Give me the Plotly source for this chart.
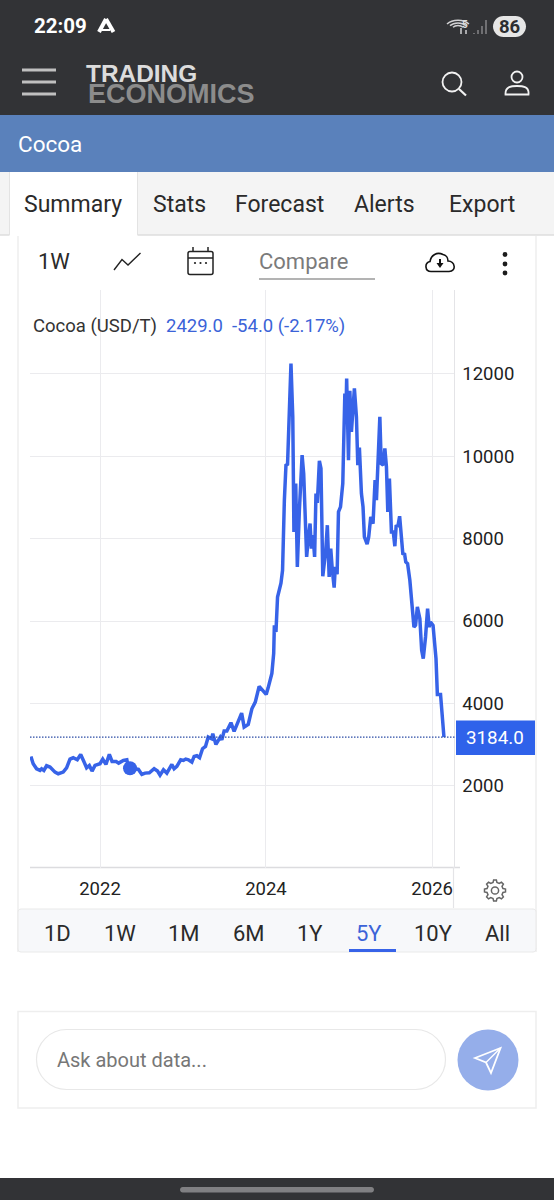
import math
import re
import plotly.graph_objects as go

W, H = 554, 1200

# ---- data ----
dates = [
 "2021-03-03","2021-03-13","2021-03-28","2021-04-12","2021-04-19","2021-04-29","2021-05-11","2021-05-26",
 "2021-06-17","2021-07-01","2021-07-23","2021-08-07","2021-08-22","2021-09-05","2021-09-23","2021-10-08",
 "2021-10-20","2021-11-03","2021-11-15","2021-11-27","2021-12-10","2022-01-01","2022-01-13","2022-01-27",
 "2022-02-11","2022-02-23","2022-03-13","2022-03-24","2022-04-14","2022-04-29","2022-05-06","2022-05-18",
 "2022-06-04","2022-06-19","2022-07-04","2022-07-18","2022-08-06","2022-08-27","2022-09-11","2022-09-22",
 "2022-10-07","2022-10-22","2022-11-13","2022-11-23","2022-12-05","2022-12-22","2023-01-03","2023-01-13",
 "2023-01-25","2023-02-09","2023-02-19","2023-03-03","2023-03-15","2023-03-28","2023-04-10","2023-04-22",
 "2023-05-07","2023-05-12","2023-05-26","2023-06-14","2023-06-21","2023-07-01","2023-07-13","2023-07-31",
 "2023-08-14","2023-09-10","2023-09-16","2023-09-27","2023-10-15","2023-10-31","2023-11-15","2023-12-02",
 "2023-12-19","2024-01-02","2024-01-10","2024-01-20","2024-01-27","2024-02-04","2024-02-07","2024-02-14",
 "2024-02-21","2024-03-07","2024-03-14","2024-03-22","2024-03-29","2024-04-05","2024-04-11","2024-04-20",
 "2024-04-28","2024-05-02","2024-05-03","2024-05-11","2024-05-18","2024-05-27","2024-06-03","2024-06-08",
 "2024-06-15","2024-06-22","2024-06-28","2024-07-06","2024-07-13","2024-07-19","2024-07-26","2024-08-02",
 "2024-08-08","2024-08-14","2024-08-23","2024-08-30","2024-09-07","2024-09-20","2024-09-27","2024-10-05",
 "2024-10-12","2024-10-19","2024-10-27","2024-11-01","2024-11-09","2024-11-15","2024-11-24","2024-12-04",
 "2024-12-13","2024-12-17","2024-12-21","2024-12-29","2025-01-04","2025-01-11","2025-01-24","2025-02-02",
 "2025-02-08","2025-02-15","2025-02-24","2025-03-03","2025-03-09","2025-03-21","2025-03-28","2025-04-06",
 "2025-04-16","2025-04-25","2025-05-01","2025-05-07","2025-05-16","2025-05-22","2025-05-31","2025-06-07",
 "2025-06-14","2025-06-20","2025-06-27","2025-07-06","2025-07-14","2025-07-21","2025-07-27","2025-08-03",
 "2025-08-11","2025-08-25","2025-09-02","2025-09-07","2025-09-15","2025-09-25","2025-10-07","2025-10-13",
 "2025-10-20","2025-10-28","2025-11-08","2025-11-16","2025-11-23","2025-12-03","2025-12-12","2025-12-19",
 "2025-12-25","2026-01-05","2026-01-18","2026-01-24","2026-02-07","2026-02-22",
]
prices = [
 2715,2538,2416,2376,2416,2376,2489,2457,
 2335,2295,2335,2440,2651,2683,2635,2764,
 2618,2440,2497,2360,2497,2538,2651,2521,
 2764,2594,2594,2554,2618,2635,2440,2440,
 2416,2400,2279,2311,2319,2416,2360,2262,
 2392,2311,2521,2416,2473,2635,2618,2651,
 2635,2578,2715,2732,2683,2902,2958,3185,
 3144,3266,3007,3185,3120,3330,3330,3533,
 3322,3654,3767,3427,3492,3872,4034,4414,
 4317,4220,4366,4640,4730,5216,5895,5733,
 6582,6915,7230,8930,9779,9803,10952,12246,
 10952,9334,8161,9334,7312,8687,9496,10022,
 9577,8687,7554,8040,8363,7757,8080,7554,
 9091,8865,9884,9698,7085,7716,8323,7069,
 7757,7231,6810,7312,7134,8646,8768,9334,
 11518,10790,11882,9900,11583,10588,11640,10952,
 9779,10208,9091,8768,8040,7862,8040,8525,
 8363,9415,8930,9739,10952,9819,9779,10183,
 9739,8646,9455,8161,8161,7813,8323,8282,
 8541,7635,7619,7433,7392,6988,6341,5854,
 5895,6340,6057,5288,5086,5612,6299,5854,
 5976,5895,5086,4220,4220,3184,
]
hover_date = ["2022-05-13"]
hover_price = [2429.0]
change = -54.0
change_pct = -2.17
last_price = prices[-1]
y_ticks = [2000, 4000, 6000, 8000, 10000, 12000]
x_tick_dates = ["2022-01-01", "2024-01-01", "2026-01-01"]
x_tick_labels = ["2022", "2024", "2026"]
ranges = ["1D", "1W", "1M", "6M", "1Y", "5Y", "10Y", "All"]
range_centers = [57, 120, 184, 249, 310, 369, 433, 497]
tabs = ["Summary", "Stats", "Forecast", "Alerts", "Export"]
tab_left = [23, 152, 234, 353, 448]

# ---- colours ----
DARK = "#323336"
BAND = "#5a81bb"
BLUE = "#3763e8"
GRID = "#ebebee"
TXT = "#222222"


def X(x):
    return x / W


def Y(y):
    return 1 - y / H


def P(d):
    """Path in screen pixels -> paper coordinates."""
    out, i = [], 0
    for tok in re.findall(r"[A-Za-z]|-?[\d.]+", d):
        if tok.isalpha():
            out.append(tok)
        else:
            out.append(f"{(X if i % 2 == 0 else Y)(float(tok)):.5f}")
            i += 1
    return " ".join(out)


shapes = []
annots = []


def rect(x0, y0, x1, y1, fill=None, line=None, lw=1, layer="below"):
    shapes.append(dict(type="rect", xref="paper", yref="paper", x0=X(x0), x1=X(x1), y0=Y(y0), y1=Y(y1),
                       fillcolor=fill or "rgba(0,0,0,0)", line=dict(color=line or "rgba(0,0,0,0)", width=lw if line else 0),
                       layer=layer))


def seg(x0, y0, x1, y1, color, lw=1, layer="below"):
    shapes.append(dict(type="line", xref="paper", yref="paper", x0=X(x0), x1=X(x1), y0=Y(y0), y1=Y(y1),
                       line=dict(color=color, width=lw), layer=layer))


def circ(cx, cy, r, fill=None, line=None, lw=1, layer="above"):
    shapes.append(dict(type="circle", xref="paper", yref="paper", x0=X(cx - r), x1=X(cx + r), y0=Y(cy - r), y1=Y(cy + r),
                       fillcolor=fill or "rgba(0,0,0,0)", line=dict(color=line or "rgba(0,0,0,0)", width=lw if line else 0),
                       layer=layer))


def path(d, fill=None, line=None, lw=1, layer="above"):
    shapes.append(dict(type="path", xref="paper", yref="paper", path=P(d), fillcolor=fill or "rgba(0,0,0,0)",
                       line=dict(color=line or "rgba(0,0,0,0)", width=lw if line else 0), layer=layer))


def rrect(x0, y0, x1, y1, r):
    k = r * 0.45
    return (f"M {x0+r} {y0} L {x1-r} {y0} C {x1-k} {y0} {x1} {y0+k} {x1} {y0+r} L {x1} {y1-r} "
            f"C {x1} {y1-k} {x1-k} {y1} {x1-r} {y1} L {x0+r} {y1} C {x0+k} {y1} {x0} {y1-k} {x0} {y1-r} "
            f"L {x0} {y0+r} C {x0} {y0+k} {x0+k} {y0} {x0+r} {y0} Z")


def text(x, y, s, size, color=TXT, anchor="left", family="Roboto", weight=None):
    if weight:
        s = f"<b>{s}</b>"
    annots.append(dict(xref="paper", yref="paper", x=X(x), y=Y(y), text=s, showarrow=False, xanchor=anchor,
                       yanchor="middle", borderpad=0, font=dict(family=family, size=size, color=color)))


# ---- page chrome ----
rect(0, 0, W, 115, DARK)
rect(0, 115, W, 172, BAND)
rect(0, 172, W, 235, "#f4f4f4")
seg(0, 235, W, 235, "#dedede", 1.5)
rect(9.5, 172, 137.5, 236, "#ffffff")
seg(9.5, 172, 9.5, 235, "#e3e3e3", 1)
seg(137.5, 172, 137.5, 235, "#e3e3e3", 1)
seg(18, 236, 18, 952, "#eeeeee", 1.5)
seg(536, 236, 536, 952, "#eeeeee", 1.5)
path(rrect(18, 909, 536, 952, 3), fill="#f7f8fa", line="#e9e9e9", lw=1, layer="below")
rect(18, 1011.5, 536, 1108, None, "#eeeeee", 1.5)
path(rrect(36.5, 1029.5, 445.5, 1089.5, 30), line="#e8e8e8", lw=1.2)
rect(0, 1178, W, 1200, DARK)
path(rrect(180, 1187, 374, 1192.5, 2.7), fill="#808083")

# status bar
text(33, 26, "22:09", 20.5, "#ffffff", weight=True)
path("M 106 19 L 99 32", line="#ffffff", lw=4)
path("M 106 19 L 113.5 32", line="#ffffff", lw=4)
path("M 102 30 L 110 30", line="#ffffff", lw=2)
for r_, yc in [(11, 30), (8, 30), (5, 30)]:
    path(f"M {458-r_} {yc-r_*0.55} C {458-r_*0.5} {yc-r_} {458+r_*0.5} {yc-r_} {458+r_} {yc-r_*0.55}",
         line="#d2d2d4", lw=1.5)
text(465, 24, "5", 10, "#dcdcde", anchor="center", weight=True)
path("M 461 34 L 461 28 M 466 34 L 466 30", line="#dcdcde", lw=1.4)
for bx, top in [(474, 33), (478, 30), (482, 26), (486, 20)]:
    seg(bx, 34, bx, top, "#77777a", 1.8, layer="above")
path(rrect(493, 16, 526, 37, 10.5), fill="#e6e6e6")
text(509.5, 26.5, "86", 18.5, "#2c2d30", anchor="center", weight=True)

# header
for yy in (70, 82, 94):
    seg(22, yy, 56, yy, "#c0c0c0", 3, layer="above")
text(84.5, 74, "TRADING", 24.4, "#dcdcdc", family="Liberation Sans", weight=True)
text(87, 94.5, "ECONOMICS", 27, "#8c8c8c", family="Liberation Sans", weight=True)
circ(452, 82, 9.5, line="#f2f2f2", lw=1.8)
path("M 459 89 L 466 95.5", line="#f2f2f2", lw=2.2)
circ(517, 77, 5.5, line="#f2f2f2", lw=1.8)
path("M 505.5 94.5 C 505 86 512 86 517 86 C 522 86 529.5 86 528.5 94.5 Z", line="#f2f2f2", lw=1.8)

text(17, 143.5, "Cocoa", 22.5, "#ffffff")
for t, x in zip(tabs, tab_left):
    text(x, 204.5, t, 23, "#2a2a2a")

# toolbar
text(37, 261, "1W", 22, "#2a2a2a")
path("M 114 270 L 122 259.5 L 128 265 L 140.5 253", line="#222222", lw=1.4)
path(rrect(188, 251.5, 213, 274.5, 2), line="#222222", lw=1.5)
seg(188, 258, 213, 258, "#222222", 1.5, layer="above")
seg(193, 247, 193, 251, "#222222", 1.5, layer="above")
seg(208, 247, 208, 251, "#222222", 1.5, layer="above")
for cx_ in (195, 200.5, 206):
    circ(cx_, 263, 1.1, fill="#222222")
text(258, 261, "Compare", 22, "#7b7b7b")
seg(259, 279, 375, 279, "#9a9a9a", 1.5)
path("M 431 271.5 C 425 271.5 424 263 430 261.5 C 431 255 437 251.5 443 254.5 C 446 255 448 258 448 261 "
     "C 455 261 457 271.5 449 271.5 Z", line="#111111", lw=1.6)
path("M 436.5 263 L 443.5 263 L 440 268 Z", fill="#111111")
seg(440, 259, 440, 264, "#111111", 2, layer="above")
for yy in (254.5, 264, 273):
    circ(505, yy, 2.4, fill="#1c1c1c")

# quote line
text(32, 326, "Cocoa (USD/T)", 18.5, "#333333")
text(165, 326, f"{hover_price[0]:.1f}", 18.5, "#3b63d8")
text(231, 326, f"{change:.1f} ({change_pct:.2f}%)", 18.5, "#3b63d8")

# gear
cx_g, cy_g = 495, 890.5
pts = []
for k in range(8):
    a = 2 * math.pi * k / 8
    for da, rad in [(-0.24, 8.2), (-0.13, 10.6), (0.13, 10.6), (0.24, 8.2)]:
        pts.append((cx_g + rad * math.cos(a + da), cy_g + rad * math.sin(a + da)))
path("M " + " L ".join(f"{a:.2f} {b:.2f}" for a, b in pts) + " Z", line="#666666", lw=1.5)
circ(cx_g, cy_g, 3.6, line="#666666", lw=1.5)

# range selector
for t, x in zip(ranges, range_centers):
    text(x, 933, t, 22, "#3b63d8" if t == "5Y" else "#2a2a2a", anchor="center")
seg(349, 950.5, 396, 950.5, BLUE, 3, layer="above")

# ask box
text(56, 1060, "Ask about data...", 20, "#777777")
circ(488, 1060, 30.5, fill="#95aeea")
path("M 475 1058 L 500.5 1048 L 491 1073 L 486 1062.5 Z", line="#ffffff", lw=1.8)
path("M 486 1062.5 L 500.5 1048", line="#ffffff", lw=1.4)

# ---- axis-driven marks ----
x_range = ["2021-02-27", "2026-04-05"]
y_range = [22, 14027]
shapes.append(dict(type="line", xref="paper", yref="y", x0=X(30), x1=X(456), y0=last_price, y1=last_price,
                   line=dict(color="#2c4da6", width=1.3, dash="1.5px,1.5px"), layer="above"))
seg(30, 867.5, 460, 867.5, "#dcdcdf", 1.5)
seg(453.5, 867, 453.5, 908, "#e4e4e7", 1.2)
rect(456, 720.5, 535, 755, "#2f62ea", layer="above")
text(495, 738, f"{last_price:.1f}", 18.8, "#ffffff", anchor="center")

fig = go.Figure()
fig.add_trace(go.Scatter(x=dates, y=prices, mode="lines", line=dict(color=BLUE, width=3.5), hoverinfo="skip", showlegend=False))
fig.add_trace(go.Scatter(x=hover_date, y=hover_price, mode="markers", marker=dict(color=BLUE, size=14), hoverinfo="skip",
                         showlegend=False))

fig.update_layout(
    width=W, height=H, margin=dict(l=0, r=0, t=0, b=0), autosize=False,
    paper_bgcolor="#ffffff", plot_bgcolor="rgba(0,0,0,0)", showlegend=False,
    shapes=shapes, annotations=annots,
    xaxis=dict(domain=[X(30), X(453.5)], range=x_range, type="date", tickvals=x_tick_dates, ticktext=x_tick_labels,
               showgrid=True, gridcolor=GRID, gridwidth=1.3, zeroline=False, showline=False,
               ticks="outside", ticklen=4, tickcolor="rgba(0,0,0,0)", tickangle=0,
               tickfont=dict(family="Roboto", size=18.5, color=TXT)),
    yaxis=dict(domain=[Y(867.5), Y(290)], range=y_range, side="right", tickvals=y_ticks, ticktext=[str(v) for v in y_ticks],
               showgrid=True, gridcolor=GRID, gridwidth=1.3, zeroline=False, showline=True, linecolor="#e4e4e7", linewidth=1.2,
               ticks="outside", ticklen=4, tickcolor="rgba(0,0,0,0)",
               tickfont=dict(family="Roboto", size=18.5, color=TXT)),
)

fig.write_html("out.html", config=dict(displayModeBar=False, responsive=False),
               post_script="document.body.style.margin='0';document.body.style.overflow='hidden';")
